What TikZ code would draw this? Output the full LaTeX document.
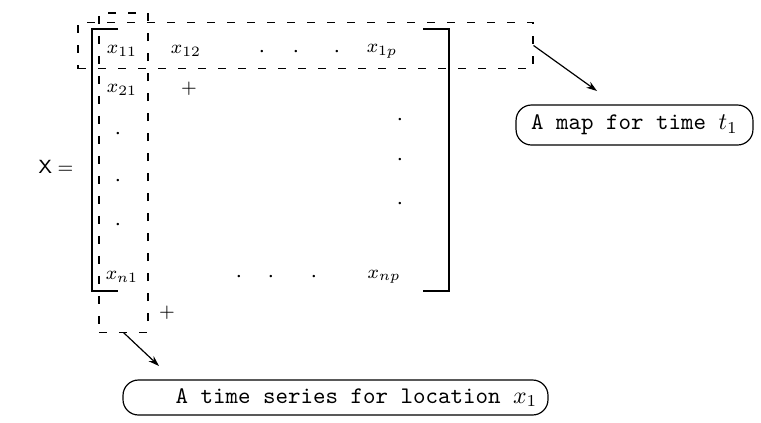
\documentclass[tikz,border=0pt]{standalone}
\usetikzlibrary{arrows.meta}
\begin{document}
\begin{tikzpicture}[x=0.42pt,y=-0.42pt,
  entry/.style={inner sep=0pt,font=\footnotesize},
  brack/.style={line width=1.2pt},
  dbox/.style={draw,line width=0.45pt,dash pattern=on 3.4pt off 5pt,inner sep=0pt},
  callout/.style={draw,line width=0.5pt,rounded corners=6.5pt,inner sep=0pt,font=\ttfamily},
  pointer/.style={line width=0.5pt,-{Stealth[length=4.5pt,width=3pt]}},
  dotm/.style={inner sep=0pt,font=\normalsize}]
\useasboundingbox (0,0) rectangle (761,422);
% label
\node[entry] (X) at (56,167) {$\mathsf{X} =$};
% brackets
\draw[brack] (118,29) -- (92,29) -- (92,291) -- (118,291);
\draw[brack] (423,29) -- (449,29) -- (449,291) -- (423,291);
% entries
\node[entry] (x11) at (122,51) {$x_{11}$};
\node[entry] (x12) at (186,51) {$x_{12}$};
\node[dotm] (d1) at (262,52) {$\cdot$};
\node[dotm] (d2) at (296,52) {$\cdot$};
\node[dotm] (d3) at (337,52) {$\cdot$};
\node[entry] (x1p) at (382,51) {$x_{1p}$};
\node[entry] (x21) at (122,90) {$x_{21}$};
\node[entry] (p1) at (189,89) {$+$};
\node[dotm] (c1) at (118,134) {$\cdot$};
\node[dotm] (c2) at (118,181) {$\cdot$};
\node[dotm] (c3) at (118,225) {$\cdot$};
\node[dotm] (r1) at (400,120) {$\cdot$};
\node[dotm] (r2) at (400,160) {$\cdot$};
\node[dotm] (r3) at (400,204) {$\cdot$};
\node[entry] (xn1) at (122,277) {$x_{n1}$};
\node[dotm] (b1) at (239,277) {$\cdot$};
\node[dotm] (b2) at (271,277) {$\cdot$};
\node[dotm] (b3) at (314,277) {$\cdot$};
\node[entry] (xnp) at (384,277) {$x_{np}$};
\node[entry] (p2) at (167,313) {$+$};
% dashed boxes
\node[dbox,minimum width=191.1pt,minimum height=19.7pt] (rowbox) at (305.5,45.5) {};
\node[dbox,minimum width=20.6pt,minimum height=134pt] (colbox) at (123.5,172.5) {};
% callouts
\node[callout,minimum width=99.5pt,minimum height=16.8pt] (map) at (634.5,125) {A map for time $t_1$};
\node[callout,minimum width=178.5pt,minimum height=14.7pt] (ts) at (335.5,397.5) {\hspace*{17.6pt}A time series for location $x_1$};
\coordinate (mapend) at (597,91);
\coordinate (tsend) at (159,366);
\draw[pointer] (rowbox.east) -- (mapend);
\draw[pointer] (colbox.south) -- (tsend);
\end{tikzpicture}
\end{document}
